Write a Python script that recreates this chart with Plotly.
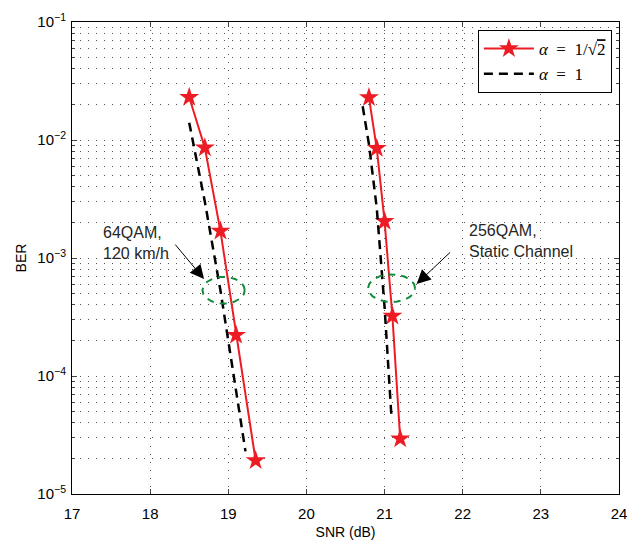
import numpy as np
import plotly.graph_objects as go

# ---- data ----
snr_64_a = [18.5, 18.7, 18.9, 19.1, 19.35]
ber_64_a = [2.3e-2, 8.6e-3, 1.69e-3, 2.22e-4, 1.92e-5]
snr_64_b = [18.5, 18.7, 18.9, 19.1, 19.22]
ber_64_b = [1.4e-2, 3.0e-3, 5.3e-4, 7.9e-5, 2.3e-5]
snr_256_a = [20.8, 20.9, 21.0, 21.1, 21.2]
ber_256_a = [2.29e-2, 8.5e-3, 2.05e-3, 3.23e-4, 2.94e-5]
snr_256_b = [20.72, 20.8, 20.9, 21.0, 21.09]
ber_256_b = [1.93e-2, 9.2e-3, 2.65e-3, 3.85e-4, 4.3e-5]

x_ticks = [17, 18, 19, 20, 21, 22, 23, 24]
y_tickvals = [1e-5, 1e-4, 1e-3, 1e-2, 1e-1]
y_ticktext = ["10<sup>−5</sup>", "10<sup>−4</sup>", "10<sup>−3</sup>", "10<sup>−2</sup>", "10<sup>−1</sup>"]

RED = "#ed1c24"
GREEN = "#138a3c"
FONT = "Liberation Sans, Arial, sans-serif"
SERIF = "Liberation Serif, DejaVu Serif, serif"

label_a = "<i>α</i>\u2002=\u20021/√<span style='text-decoration:overline'>2</span>"
label_b = "<i>α</i>\u2002=\u20021"

fig = go.Figure()

fig.add_trace(go.Scatter(x=snr_64_a, y=ber_64_a, mode="lines+markers",
                         name=label_a, legendgroup="a",
                         line=dict(color=RED, width=2),
                         marker=dict(symbol="star", size=15, color=RED, line=dict(width=0))))
fig.add_trace(go.Scatter(x=snr_64_b, y=ber_64_b, mode="lines",
                         name=label_b, legendgroup="b",
                         line=dict(color="black", width=2.5, dash="9px,6px")))
fig.add_trace(go.Scatter(x=snr_256_a, y=ber_256_a, mode="lines+markers",
                         name=label_a, legendgroup="a", showlegend=False,
                         line=dict(color=RED, width=2),
                         marker=dict(symbol="star", size=15, color=RED, line=dict(width=0))))
fig.add_trace(go.Scatter(x=snr_256_b, y=ber_256_b, mode="lines",
                         name=label_b, legendgroup="b", showlegend=False,
                         line=dict(color="black", width=2.5, dash="9px,6px")))

# ellipses (center x, center log10 y, radius x, radius log y)
ellipses = [(18.94, -3.273, 0.27, 0.113), (21.09, -3.256, 0.30, 0.117)]
t = np.linspace(0, 2 * np.pi, 120)
for cx, cy, rx, ry in ellipses:
    fig.add_trace(go.Scatter(x=cx + rx * np.cos(t), y=10 ** (cy + ry * np.sin(t)),
                             mode="lines", showlegend=False, hoverinfo="skip",
                             line=dict(color=GREEN, width=2, dash="7px,6px")))

annos = [
    dict(x=18.69, y=-3.179, ax=-30, ay=-36),
    dict(x=21.41, y=-3.220, ax=35, ay=-33),
]
for a in annos:
    fig.add_annotation(x=a["x"], y=a["y"], ax=a["ax"], ay=a["ay"], xref="x", yref="y",
                       axref="pixel", ayref="pixel", text="", showarrow=True,
                       arrowhead=2, arrowsize=2.8, arrowwidth=1, arrowcolor="black")

fig.add_annotation(x=17.374, y=-2.872, xref="x", yref="y", text="64QAM,<br>120 km/h",
                   showarrow=False, xanchor="left", yanchor="middle", align="left",
                   font=dict(family=FONT, size=16, color="#262626"))
fig.add_annotation(x=22.057, y=-2.856, xref="x", yref="y", text="256QAM,<br>Static Channel",
                   showarrow=False, xanchor="left", yanchor="middle", align="left",
                   font=dict(family=FONT, size=16, color="#262626"))

GRID = "#555"
fig.update_layout(
    width=638, height=549,
    margin=dict(l=72, r=11, t=22, b=44),
    paper_bgcolor="white", plot_bgcolor="white",
    font=dict(family=FONT, size=14, color="black"),
    showlegend=True,
    legend=dict(x=0.987, y=0.983, xanchor="right", yanchor="top",
                bgcolor="white", bordercolor="black", borderwidth=1,
                font=dict(family=SERIF, size=17),
                tracegroupgap=0, itemwidth=50),
)

fig.update_xaxes(range=[17, 24], tickvals=x_ticks, ticks="inside", ticklen=5,
                 mirror="allticks", showline=True, linecolor="black", linewidth=1,
                 showgrid=True, gridcolor=GRID, griddash="1px,7px", gridwidth=1,
                 zeroline=False, tickfont=dict(size=15), ticklabelstandoff=6,
                 title=dict(text="SNR (dB)", font=dict(size=14), standoff=6))
fig.update_yaxes(type="log", range=[-5, -1], tickvals=y_tickvals, ticktext=y_ticktext,
                 ticks="inside", ticklen=5, mirror="allticks", showline=True,
                 linecolor="black", linewidth=1,
                 showgrid=True, gridcolor=GRID, griddash="1px,7px", gridwidth=1,
                 minor=dict(dtick="D1", ticks="inside", ticklen=3, showgrid=True,
                            gridcolor=GRID, griddash="1px,7px", gridwidth=1),
                 tickfont=dict(size=15), ticklabelstandoff=2,
                 title=dict(text="BER", font=dict(size=14), standoff=7))

fig.write_html("out.html", config={"displayModeBar": False},
               post_script="document.body.style.margin='0';")
